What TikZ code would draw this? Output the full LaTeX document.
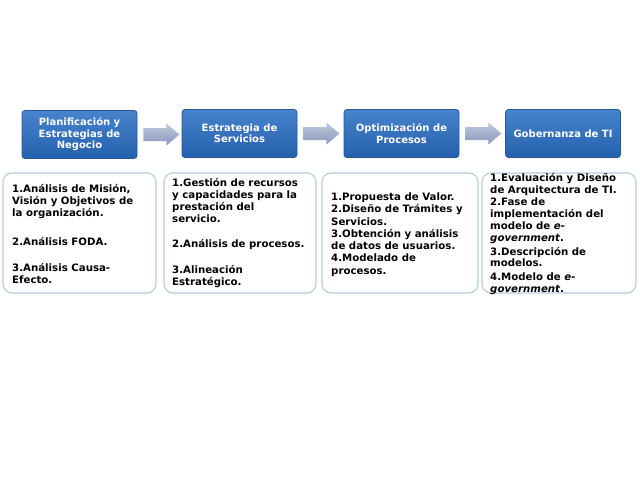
\documentclass[tikz,border=0pt]{standalone}
\usepackage{fontspec}
\setmainfont{DejaVu Sans}
\usetikzlibrary{calc}
\definecolor{bluetop}{RGB}{72,132,204}
\definecolor{bluebot}{RGB}{36,96,172}
\definecolor{blueedge}{RGB}{40,85,150}
\definecolor{arrtop}{RGB}{190,200,222}
\definecolor{arrbot}{RGB}{138,152,186}
\definecolor{boxedge}{RGB}{185,202,222}
\tikzset{
  x=1pt, y=-1pt,
  header/.style={draw=blueedge, line width=0.8pt, rounded corners=3pt,
    top color=bluetop, bottom color=bluebot, text=white,
    font=\fontsize{10}{11.5}\selectfont\bfseries, align=center,
    minimum width=115pt, minimum height=48pt, inner sep=0pt},
  flowarrow/.style={top color=arrtop, bottom color=arrbot, draw=none},
  itembox/.style={draw=boxedge, line width=1.1pt, rounded corners=9pt, fill=white},
  itemtext/.style={font=\fontsize{10.2}{12}\selectfont\bfseries, align=left,
    anchor=north west, inner sep=0pt, text=black}
}
\newcommand{\blockarrow}[2]{%
  \path[flowarrow] ($(#1.east)+(6,-6.5)$) -- ($(#1.east)+(29,-6.5)$) -- ($(#1.east)+(29,-11)$)
    -- ($(#1.east)+(42,0)$) -- ($(#1.east)+(29,11)$) -- ($(#1.east)+(29,6.5)$)
    -- ($(#1.east)+(6,6.5)$) -- cycle;}
\begin{document}
\begin{tikzpicture}
\useasboundingbox (0,0) rectangle (640,479);
% white boxes
\draw[itembox] (3,173) rectangle (156,293);
\draw[itembox] (164,173) rectangle (316,293);
\draw[itembox] (322,173) rectangle (478,293);
\draw[itembox] (482,173) rectangle (636,293);
% headers
\node[header] (h1) at (79.5,134.5) {Planificación y\\Estrategias de\\Negocio};
\node[header] (h2) at (239.5,133.5) {Estrategia de\\Servicios};
\node[header] (h3) at (401.5,133.5) {Optimización de\\Procesos};
\node[header] (h4) at (563,133.5) {Gobernanza de TI};
% arrows
\blockarrow{h1}{h2}
\blockarrow{h2}{h3}
\blockarrow{h3}{h4}
% texts
\node[itemtext] (t1) at (12,184) {1.Análisis de Misión,\\Visión y Objetivos de\\la organización.\\[17pt]2.Análisis FODA.\\[14pt]3.Análisis Causa-\\Efecto.};
\node[itemtext] (t2) at (172,178) {1.Gestión de recursos\\y capacidades para la\\prestación del\\servicio.\\[13pt]2.Análisis de procesos.\\[14pt]3.Alineación\\Estratégico.};
\node[itemtext, font=\fontsize{10.2}{12.3}\selectfont\bfseries] (t3) at (331,192.5) {1.Propuesta de Valor.\\2.Diseño de Trámites y\\Servicios.\\3.Obtención y análisis\\de datos de usuarios.\\4.Modelado de\\procesos.};
\node[itemtext, font=\fontsize{10.2}{11.8}\selectfont\bfseries] (t4) at (490,173) {1.Evaluación y Diseño\\de Arquitectura de TI.\\[1pt]2.Fase de\\implementación del\\modelo de \textit{e-}\\\textit{government}.\\[2pt]3.Descripción de\\modelos.\\[2pt]4.Modelo de \textit{e-}\\\textit{government}.};
\end{tikzpicture}
\end{document}
